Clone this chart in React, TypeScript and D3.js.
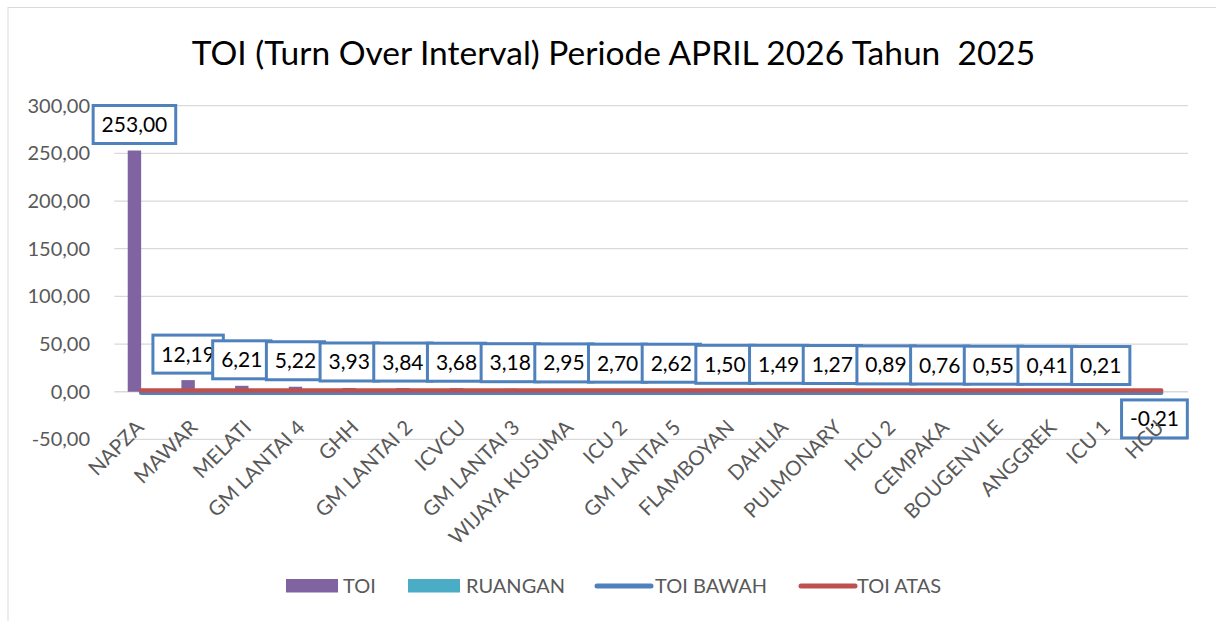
import React from "react";
import * as d3 from "d3";

const categories = [
  "NAPZA", "MAWAR", "MELATI", "GM LANTAI 4", "GHH", "GM LANTAI 2", "ICVCU",
  "GM LANTAI 3", "WIJAYA KUSUMA", "ICU 2", "GM LANTAI 5", "FLAMBOYAN", "DAHLIA",
  "PULMONARY", "HCU 2", "CEMPAKA", "BOUGENVILE", "ANGGREK", "ICU 1", "HCU",
];
const toiValues = [
  253.0, 12.19, 6.21, 5.22, 3.93, 3.84, 3.68, 3.18, 2.95, 2.7, 2.62, 1.5, 1.49,
  1.27, 0.89, 0.76, 0.55, 0.41, 0.21, -0.21,
];
const ruanganValues = [0, 0, 0, 0, 0, 0, 0, 0, 0, 0, 0, 0, 0, 0, 0, 0, 0, 0, 0, 0];
const toiBawah = [-1.2, -1.2, -1.2, -1.2, -1.2, -1.2, -1.2, -1.2, -1.2, -1.2, -1.2, -1.2, -1.2, -1.2, -1.2, -1.2, -1.2, -1.2, -1.2, -1.2];
const toiAtas = [1.2, 1.2, 1.2, 1.2, 1.2, 1.2, 1.2, 1.2, 1.2, 1.2, 1.2, 1.2, 1.2, 1.2, 1.2, 1.2, 1.2, 1.2, 1.2, 1.2];
const yTicks = [-50, 0, 50, 100, 150, 200, 250, 300];
const seriesNames = ["TOI", "RUANGAN", "TOI BAWAH", "TOI ATAS"];
const title = "TOI (Turn Over Interval) Periode APRIL 2026 Tahun  2025";

const W = 1216;
const H = 621;
const FONT = "Lato, 'Open Sans', sans-serif";
const C_TOI = "#8064A2";
const C_RUANG = "#4BACC6";
const C_BAWAH = "#4F81BD";
const C_ATAS = "#C0504D";
const GREY = "#595959";

const fmt = (v: number) => v.toFixed(2).replace(".", ",");

export default function App() {
  const x = d3
    .scaleBand<string>()
    .domain(categories)
    .range([114.3, 1188])
    .paddingInner(0.5)
    .paddingOuter(0.25);
  const sub = d3
    .scaleBand<string>()
    .domain(["TOI", "RUANGAN"])
    .range([0, x.bandwidth()]);
  const y = d3.scaleLinear().domain([-50, 300]).range([439.4, 105.7]);
  const cx = (c: string) => (x(c) as number) + x.bandwidth() / 2;

  const line = d3
    .line<number>()
    .x((_, i) => cx(categories[i]))
    .y((d) => y(d));

  const lfs = 21;
  const labelW = (s: string) => {
    let w = 0;
    for (const ch of s) {
      if (ch === ",") w += 0.27 * lfs;
      else if (ch === "-") w += 0.36 * lfs;
      else w += 0.58 * lfs;
    }
    return w;
  };

  const legend = [
    { name: seriesNames[0], kind: "rect", color: C_TOI, sx: 286, tx: 343 },
    { name: seriesNames[1], kind: "rect", color: C_RUANG, sx: 408, tx: 466 },
    { name: seriesNames[2], kind: "line", color: C_BAWAH, sx: 597, tx: 655 },
    { name: seriesNames[3], kind: "line", color: C_ATAS, sx: 801, tx: 857 },
  ];

  return (
    <svg
      width={W}
      height={H}
      style={{ position: "absolute", left: 0, top: 0, background: "#fff" }}
      fontFamily={FONT}
    >
      <rect x={0} y={0} width={W} height={H} fill="#fff" />
      <rect x={8} y={7.5} width={1240} height={640} fill="none" stroke="#D9D9D9" strokeWidth={1} />
      <text
        x={613.5}
        y={65}
        textAnchor="middle"
        fontSize={33.5}
        fill="#000"
        style={{ whiteSpace: "pre" }}
      >
        {title}
      </text>

      {/* gridlines */}
      {yTicks.map((t) => (
        <line key={t} x1={114.3} x2={1188} y1={y(t)} y2={y(t)} stroke="#D9D9D9" strokeWidth={1.3} />
      ))}
      {yTicks.map((t) => (
        <text key={"l" + t} x={90} y={y(t) + 7} textAnchor="end" fontSize={20} fill={GREY}>
          {fmt(t)}
        </text>
      ))}

      {/* bars */}
      {categories.map((c, i) => {
        const v = toiValues[i];
        return (
          <rect
            key={"b" + c}
            x={(x(c) as number) + (sub("TOI") as number)}
            width={sub.bandwidth()}
            y={Math.min(y(v), y(0))}
            height={Math.abs(y(v) - y(0))}
            fill={C_TOI}
          />
        );
      })}
      {categories.map((c, i) => {
        const v = ruanganValues[i];
        return (
          <rect
            key={"r" + c}
            x={(x(c) as number) + (sub("RUANGAN") as number)}
            width={sub.bandwidth()}
            y={Math.min(y(v), y(0))}
            height={Math.abs(y(v) - y(0))}
            fill={C_RUANG}
          />
        );
      })}

      {/* lines */}
      <path d={line(toiBawah) || ""} fill="none" stroke={C_BAWAH} strokeWidth={4.5} strokeLinecap="round" />
      <path d={line(toiAtas) || ""} fill="none" stroke={C_ATAS} strokeWidth={4.5} strokeLinecap="round" />

      {/* data labels */}
      {categories.map((c, i) => {
        const v = toiValues[i];
        const s = fmt(v);
        const bx = (x(c) as number) + (sub("TOI") as number) + sub.bandwidth() / 2;
        const bw = labelW(s) + 16;
        const bh = 38;
        const top = v >= 0 ? y(v) - 7 - bh : y(v) + 8;
        return (
          <g key={"dl" + c}>
            <rect x={bx - bw / 2} y={top} width={bw} height={bh} fill="#fff" stroke={C_BAWAH} strokeWidth={3} />
            <text x={bx} y={top + bh / 2 + 7.5} textAnchor="middle" fontSize={lfs} fill="#000">
              {s}
            </text>
          </g>
        );
      })}

      {/* category labels */}
      {categories.map((c) => {
        const ax = cx(c) + 4;
        const ay = y(0) + 37;
        return (
          <text
            key={"xl" + c}
            x={ax}
            y={ay}
            textAnchor="end"
            fontSize={20.5}
            fill={GREY}
            transform={`rotate(-45 ${ax} ${ay})`}
          >
            {c}
          </text>
        );
      })}

      {/* legend */}
      {legend.map((l) => (
        <g key={"lg" + l.name}>
          {l.kind === "rect" ? (
            <rect x={l.sx} y={579} width={52} height={13.5} fill={l.color} />
          ) : (
            <line x1={l.sx} x2={l.sx + 54} y1={586} y2={586} stroke={l.color} strokeWidth={5} strokeLinecap="round" />
          )}
          <text x={l.tx} y={593} fontSize={20} fill={GREY}>
            {l.name}
          </text>
        </g>
      ))}
    </svg>
  );
}
